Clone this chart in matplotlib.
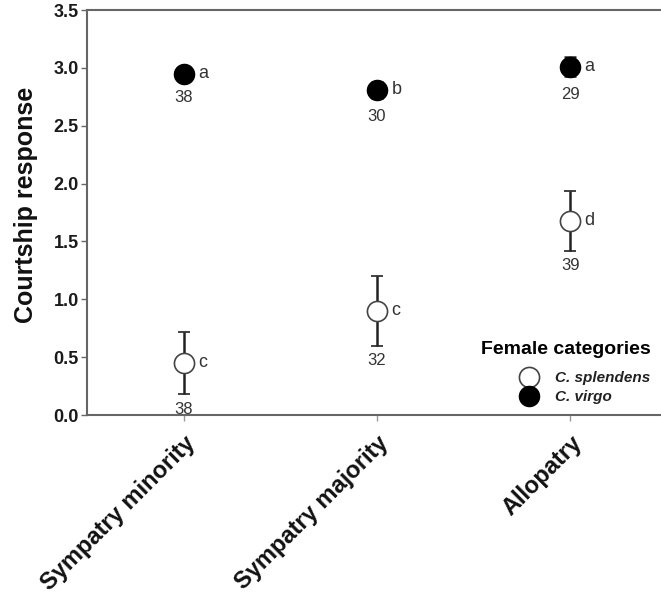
import matplotlib
matplotlib.use("Agg")
import matplotlib.pyplot as plt
from matplotlib.lines import Line2D

plt.rcParams['font.family'] = ['Liberation Sans', 'DejaVu Sans']

# data
categories = ["Sympatry minority", "Sympatry majority", "Allopatry"]
splendens_mean = [0.45, 0.90, 1.68]
splendens_err = [0.27, 0.30, 0.26]
splendens_n = [38, 32, 39]
splendens_grp = ["c", "c", "d"]

virgo_mean = [2.95, 2.81, 3.01]
virgo_err = [0.05, 0.07, 0.08]
virgo_n = [38, 30, 29]
virgo_grp = ["a", "b", "a"]

txt_col = '#333333'
spine_col = '#666666'

fig = plt.figure(figsize=(6.61, 6.0), dpi=100)
ax = fig.add_axes([0.1316, 0.3083, 0.8684, 0.675])

xs = list(range(1, len(categories) + 1))

ax.errorbar(xs, splendens_mean, yerr=splendens_err, fmt='o', ms=14.5,
            mfc='white', mec='#444444', mew=1.2, ecolor='#222222',
            elinewidth=1.8, capsize=4.5, capthick=1.8, zorder=3)
ax.errorbar(xs, virgo_mean, yerr=virgo_err, fmt='o', ms=14.5,
            mfc='black', mec='black', ecolor='#222222',
            elinewidth=1.8, capsize=4.5, capthick=1.8, zorder=3)

# n below the lower error bar, group letter to the right
for x, m, e, n, g in zip(xs, splendens_mean, splendens_err, splendens_n, splendens_grp):
    ax.annotate(str(n), (x, m - e), xytext=(0, -11), textcoords='offset points',
                ha='center', va='center', fontsize=12, color=txt_col)
    ax.annotate(g, (x, m), xytext=(10.5, 0), textcoords='offset points',
                ha='left', va='center', fontsize=13, color=txt_col)

for x, m, e, n, g in zip(xs, virgo_mean, virgo_err, virgo_n, virgo_grp):
    ax.annotate(str(n), (x, m - e), xytext=(0, -13), textcoords='offset points',
                ha='center', va='center', fontsize=12, color=txt_col)
    ax.annotate(g, (x, m), xytext=(10.5, 0), textcoords='offset points',
                ha='left', va='center', fontsize=13, color=txt_col)

ax.set_xlim(0.5, 3.47)
ax.set_ylim(0, 3.5)
ax.set_yticks([0, 0.5, 1.0, 1.5, 2.0, 2.5, 3.0, 3.5])
ax.set_yticklabels([f"{v:.1f}" for v in ax.get_yticks()],
                   fontsize=13, fontweight='bold', color='#1a1a1a')
ax.set_xticks(xs)
ax.set_xticklabels(categories, rotation=45, ha='right', rotation_mode='anchor',
                   fontsize=17, fontweight='bold', color='#111111')
ax.tick_params(axis='y', direction='out', length=4, width=1, color=spine_col, pad=2)
ax.tick_params(axis='x', direction='out', length=4, width=1, color='#999999', pad=8)
ax.set_ylabel("Courtship response", fontsize=18, fontweight='bold', color='#111111')
ax.yaxis.set_label_coords(-0.085, 0.52)

ax.spines['right'].set_visible(False)
for s in ['left', 'top', 'bottom']:
    ax.spines[s].set_color(spine_col)
    ax.spines[s].set_linewidth(1.5)

handles = [
    Line2D([], [], ls='none', marker='o', ms=14.5, mfc='white', mec='#444444', mew=1.2),
    Line2D([], [], ls='none', marker='o', ms=14.5, mfc='black', mec='black'),
]
leg = ax.legend(handles, ["C. splendens", "C. virgo"], title="Female categories",
                loc='lower right', bbox_to_anchor=(1.0, 0.0), frameon=False,
                alignment='right', handletextpad=0.7, labelspacing=0.35,
                borderpad=0.2, prop={'size': 11, 'weight': 'bold', 'style': 'italic'},
                title_fontproperties={'size': 14, 'weight': 'bold'})
leg._legend_box.sep = 9  # a bit more room under the title
for t in leg.get_texts():
    t.set_color('#222222')

fig.savefig("out.png", dpi=100, facecolor='white')
